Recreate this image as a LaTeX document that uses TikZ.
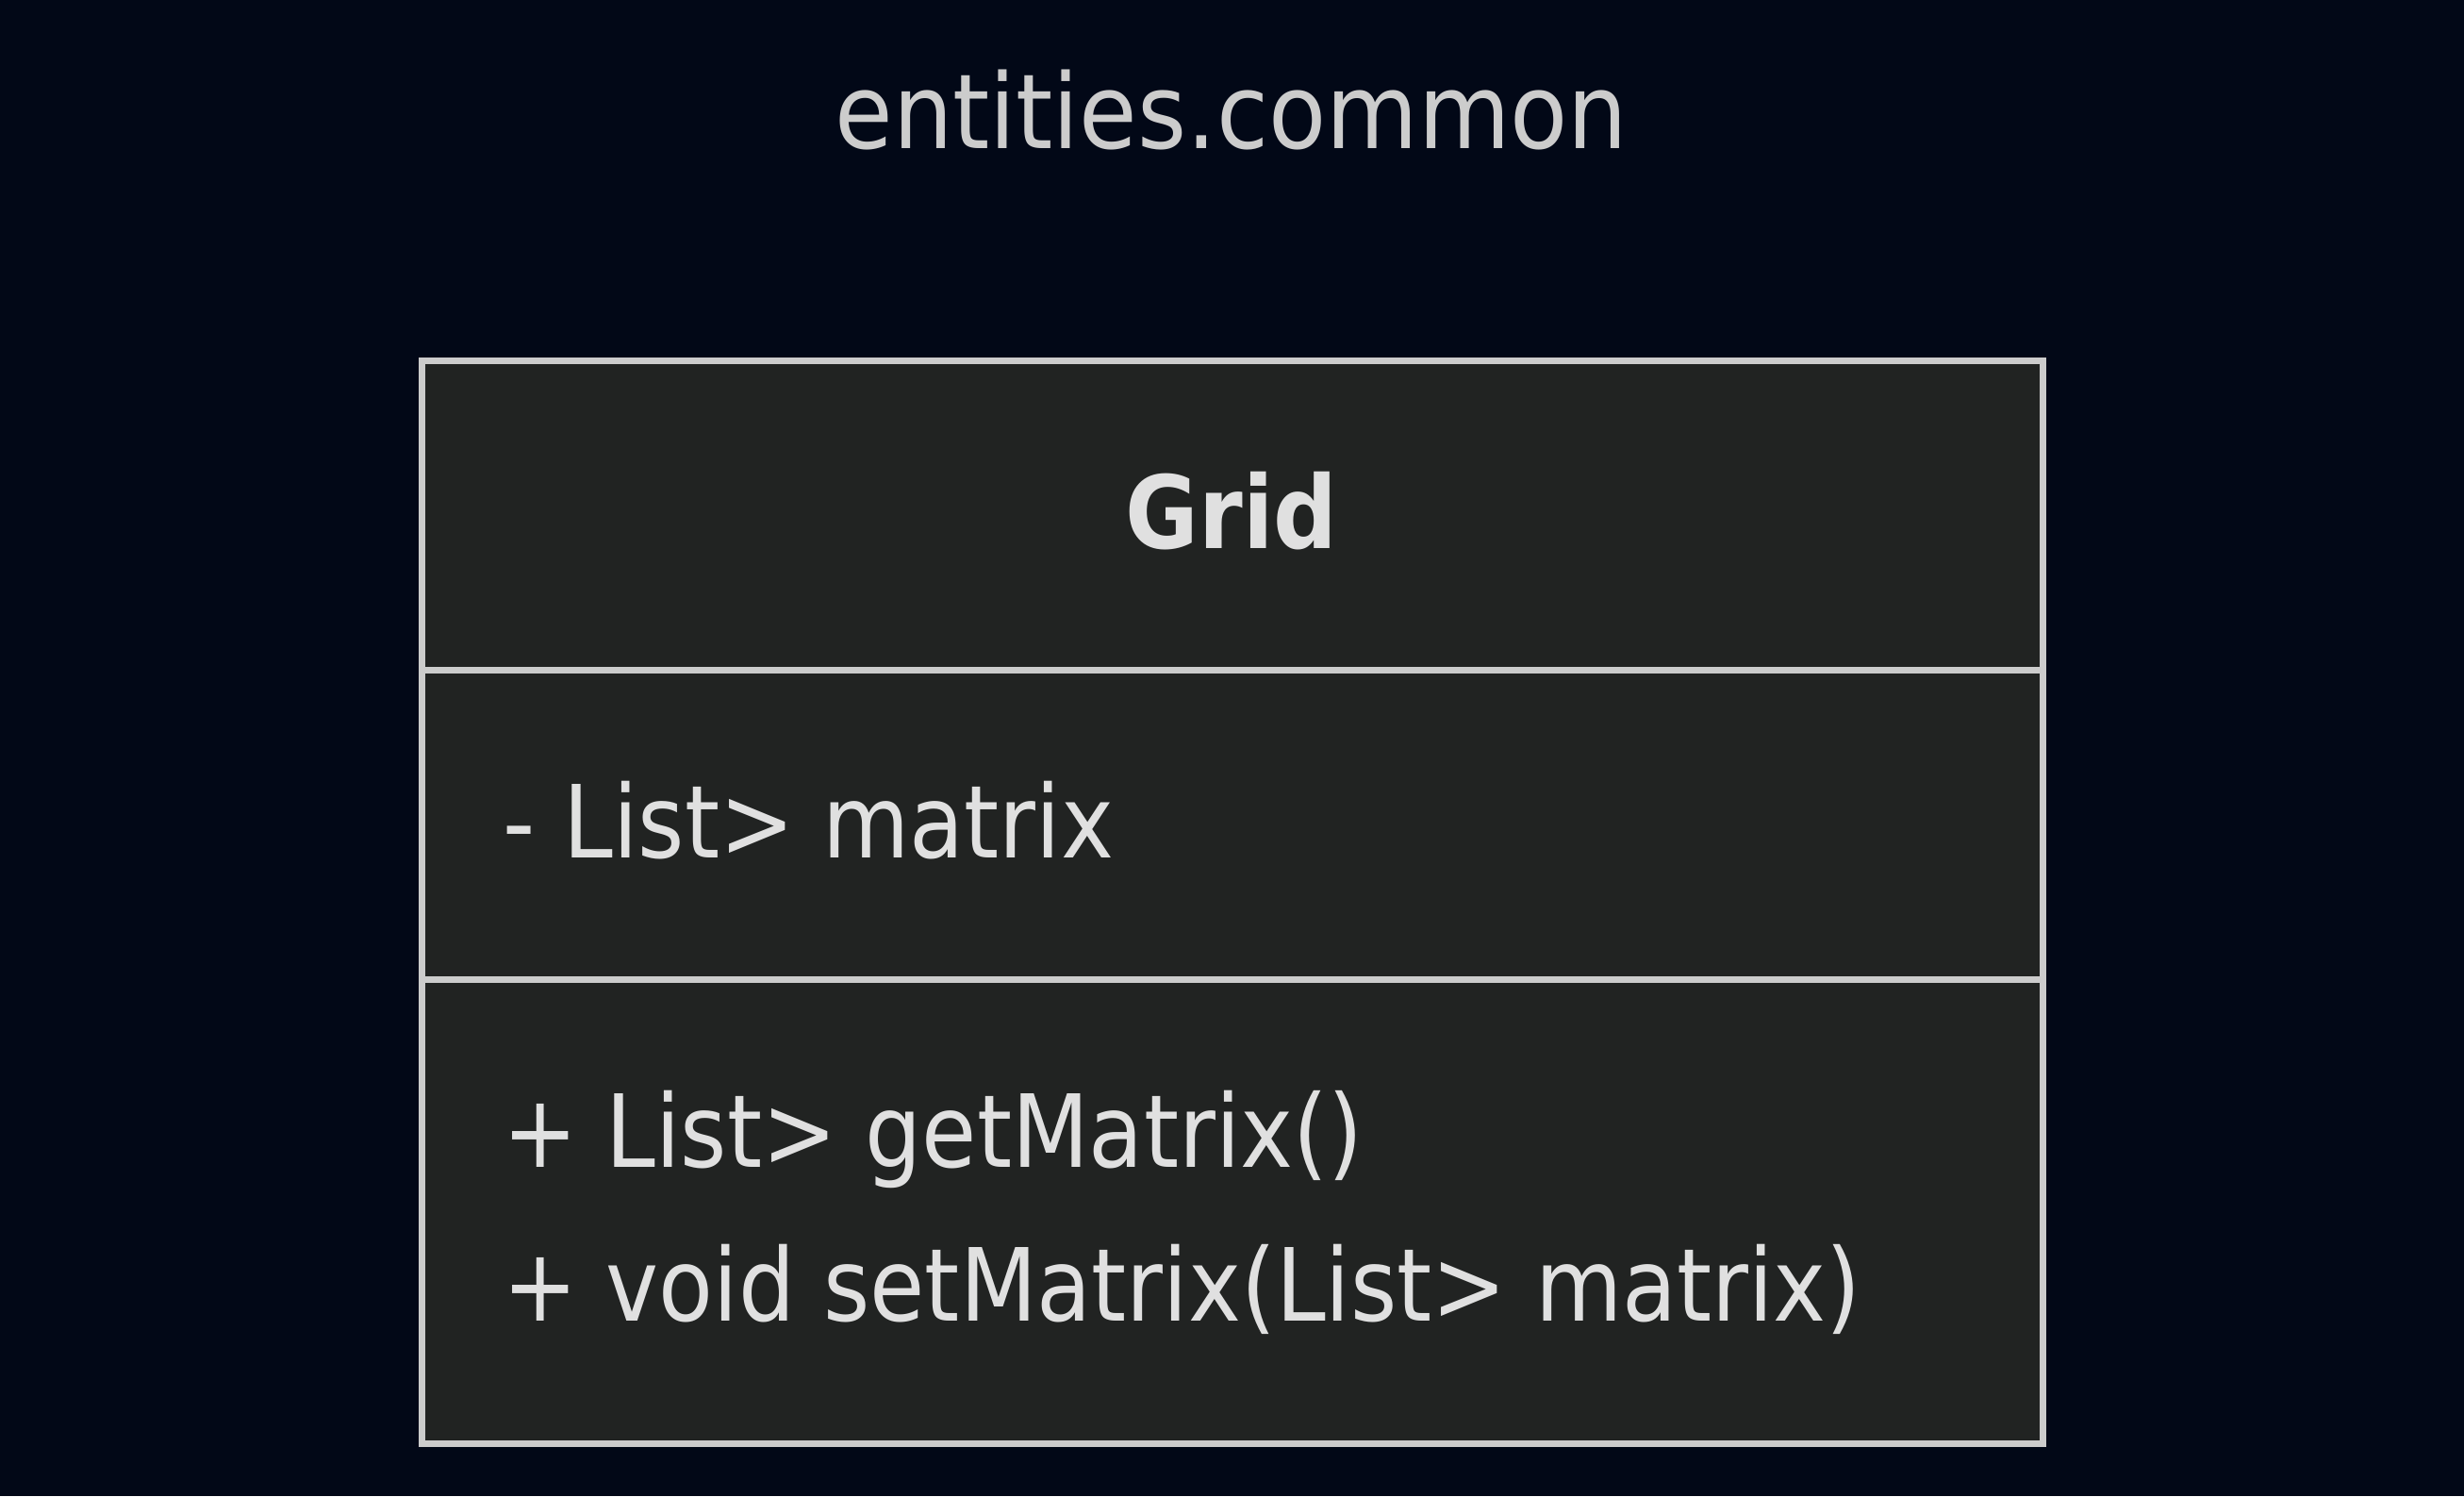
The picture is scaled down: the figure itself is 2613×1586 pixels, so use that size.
\documentclass[tikz,border=0pt]{standalone}
\usepackage{fontspec}
\setmainfont{DejaVu Sans}[FakeStretch=0.885]
\newfontfamily\titlefont{DejaVu Sans}[FakeStretch=0.91]
\definecolor{bg}{HTML}{020817}
\definecolor{boxfill}{HTML}{212322}
\definecolor{edge}{HTML}{CCCCCC}
\definecolor{txt}{HTML}{E0E0E0}
\definecolor{titlecol}{HTML}{CCCCCC}
\tikzset{
  classedge/.style={draw=edge, line width=3.5pt},
  member/.style={text=txt, inner sep=0pt, anchor=base west, font=\fontsize{53.5pt}{64pt}\selectfont},
  classname/.style={text=txt, inner sep=0pt, anchor=base, font=\fontsize{53.5pt}{64pt}\selectfont\bfseries},
  pkgtitle/.style={text=titlecol, inner sep=0pt, anchor=base, font=\titlefont\fontsize{55pt}{66pt}\selectfont}
}
\begin{document}
\begin{tikzpicture}[x=0.5pt,y=-0.5pt]
\fill[bg] (0,0) rectangle (2613,1586);
\useasboundingbox (0,0) rectangle (2613,1586);
\coordinate (tl) at (447,382);
\coordinate (br) at (2166,1530);
\coordinate (d1l) at (447,710);
\coordinate (d1r) at (2166,710);
\coordinate (d2l) at (447,1038);
\coordinate (d2r) at (2166,1038);
\fill[boxfill] (tl) rectangle (br);
\draw[classedge] (d1l) -- (d1r);
\draw[classedge] (d2l) -- (d2r);
\draw[classedge] (tl) rectangle (br);
\node[pkgtitle] (title) at (1306,157) {entities.common};
\node[classname] (name) at (1306,581) {Grid};
\node[member] (attr) at (533,909) {- List> matrix};
\node[member] (m1) at (533,1237) {+ List> getMatrix()};
\node[member] (m2) at (533,1400) {+ void setMatrix(List> matrix)};
\end{tikzpicture}
\end{document}
